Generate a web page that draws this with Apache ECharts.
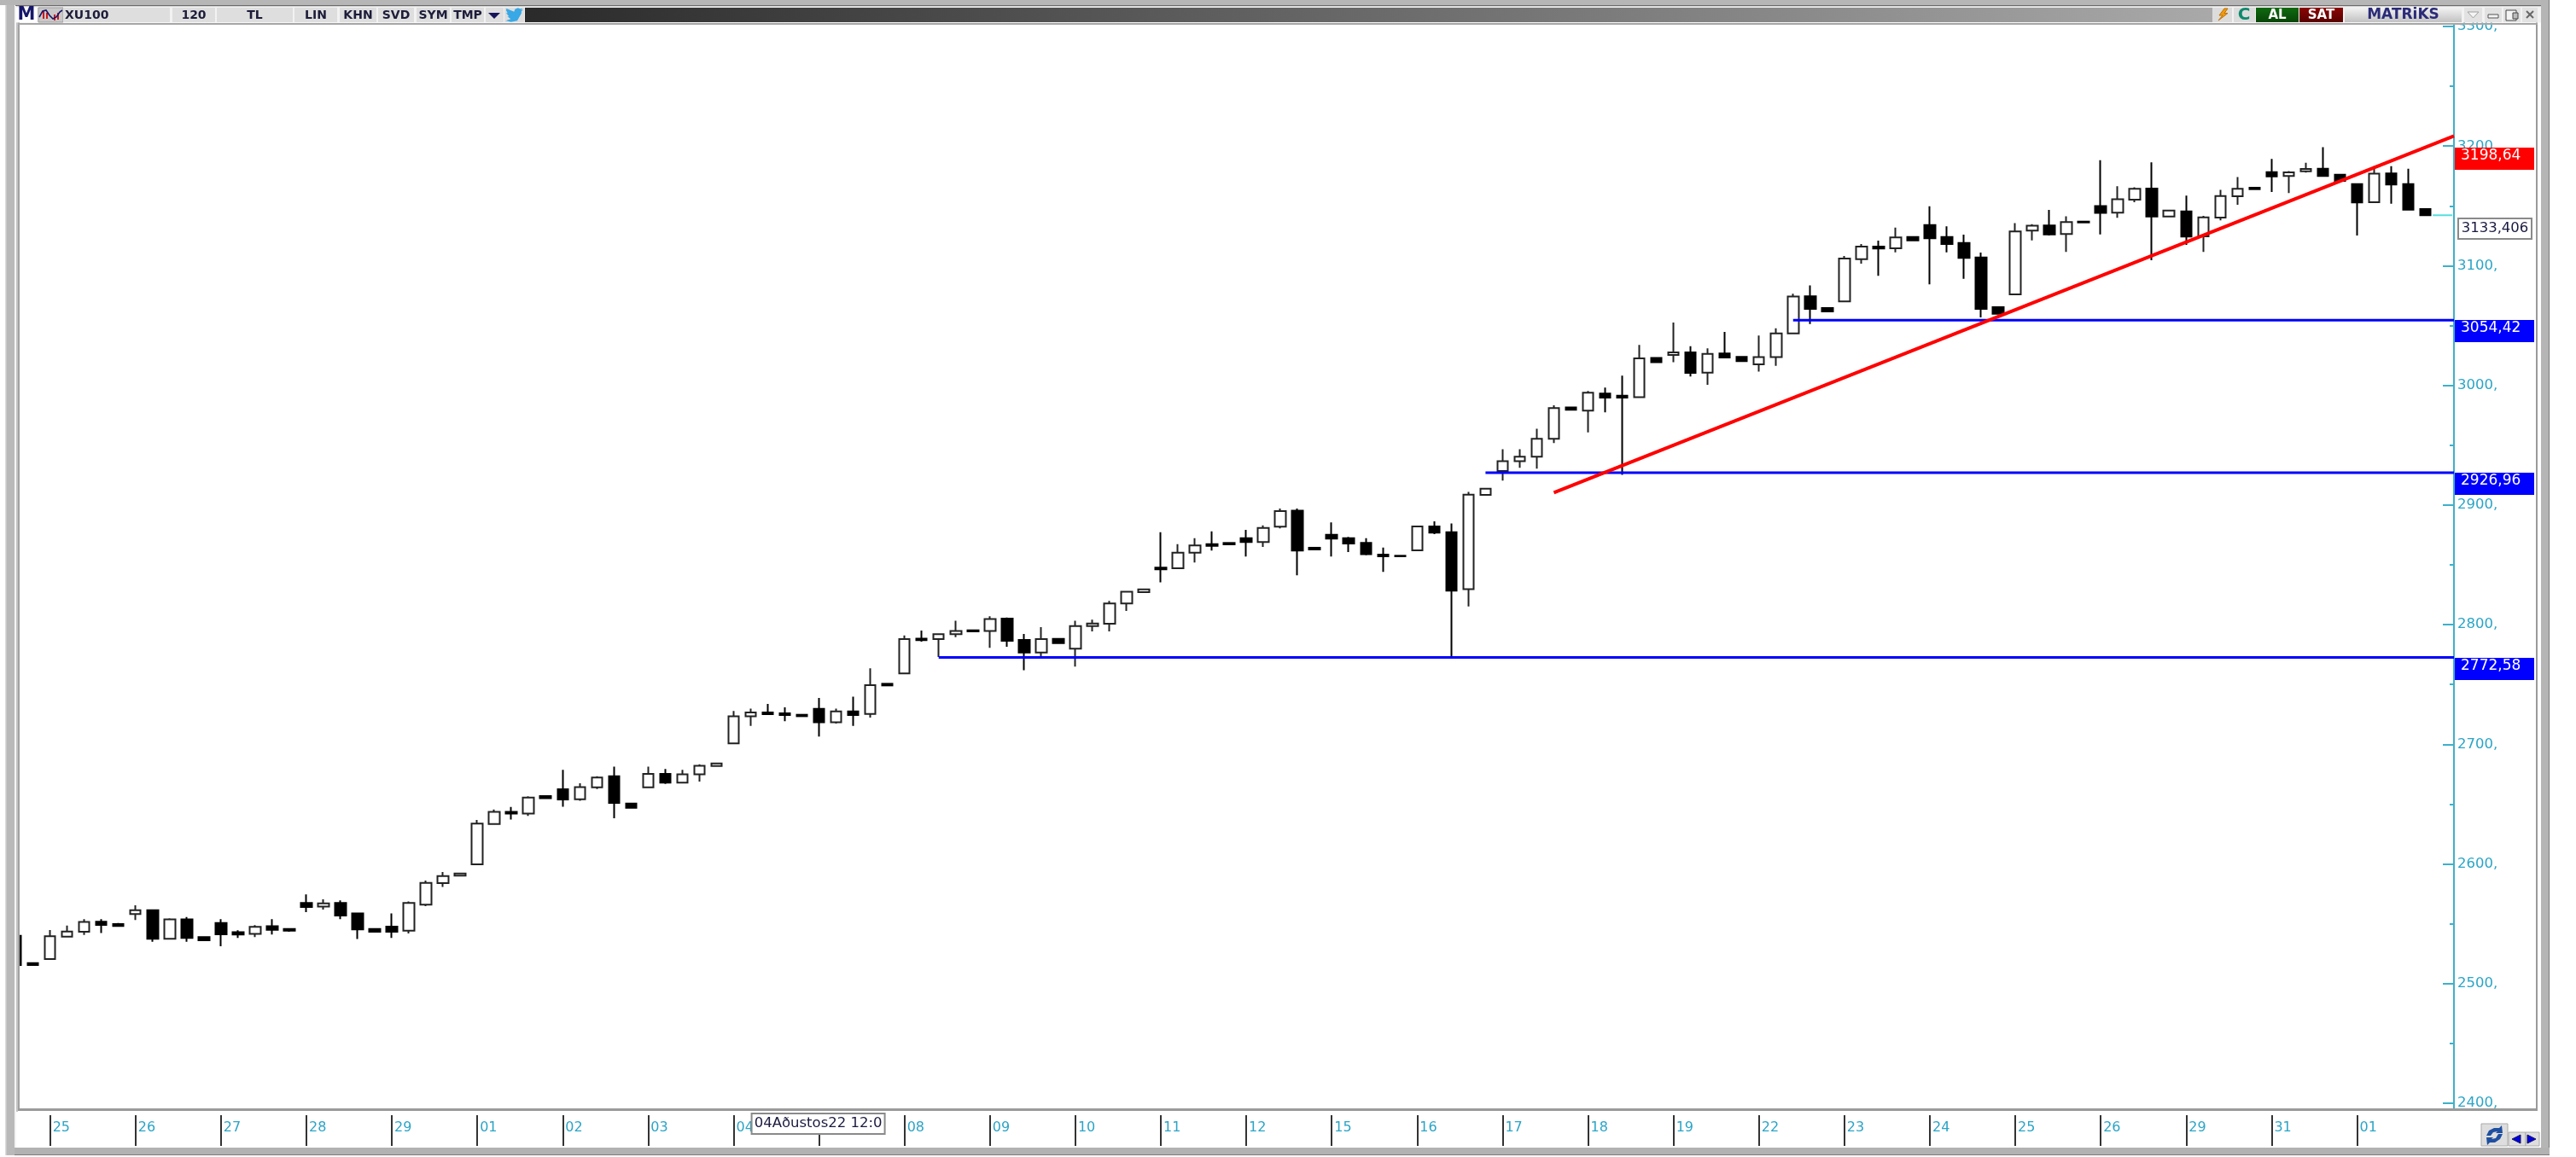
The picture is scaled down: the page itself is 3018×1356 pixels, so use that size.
<!DOCTYPE html>
<html>
<head>
<meta charset="utf-8">
<title>XU100</title>
<style>html,body{margin:0;padding:0;background:#fff;overflow:hidden}#c{width:3018px;height:1356px}</style>
<script src="https://cdn.jsdelivr.net/npm/echarts@6/dist/echarts.min.js"></script>
</head>
<body>
<div id="c"></div>
<script>
const symbol = 'XU100';
const opens = [2540.0,2517.2,2520.5,2539.3,2543.4,2551.7,2549.8,2558.1,2561.4,2537.4,2553.6,2538.8,2550.7,2542.9,2541.5,2547.9,2545.7,2567.4,2564.3,2567.4,2558.6,2545.7,2547.6,2544.3,2565.9,2584.0,2590.2,
2599.7,2633.4,2643.6,2642.2,2656.7,2662.4,2654.1,2664.1,2673.4,2650.5,2664.1,2675.3,2667.9,2675.0,2681.9,
2700.7,2723.5,2726.6,2725.9,2724.7,2729.7,2718.5,2727.6,2725.4,2750.6,2759.2,2788.4,2788.0,2792.0,2795.3,2794.8,2805.1,2787.2,2776.8,2788.2,2779.9,2798.9,2800.8,2817.7,2827.2,2847.6,2847.1,2860.2,2867.3,2868.3,2872.3,2869.0,
2881.9,2895.2,2864.3,2875.2,2872.3,2868.3,2858.6,2857.6,2862.1,2882.1,2877.3,2829.6,2908.5,
2928.5,2936.6,2940.4,2955.4,2981.5,2978.9,2993.2,2991.3,2990.1,3022.9,3025.5,3027.6,3010.7,3026.7,3023.8,3017.6,3023.6,3043.5,3074.4,3064.7,3070.2,
3105.5,3116.0,3114.6,3124.0,3134.0,3124.0,3119.1,
3107.0,3065.4,3076.1,3129.3,3133.6,3126.5,3136.9,3149.8,3144.3,3155.2,3164.5,3141.2,3145.5,3124.6,3140.3,3158.1,3165.2,3178.3,3175.0,3179.0,3181.1,3176.1,3168.3,3153.1,3177.1,3168.3,3147.4];
const closes = [2515.5,2515.5,2539.6,2543.6,2551.5,2549.1,2548.1,2561.4,2537.4,2553.6,2538.1,2536.2,2541.2,2541.0,2547.4,2545.0,2544.3,2564.0,2567.1,2556.9,2545.3,2543.4,2543.4,2567.4,2584.2,2589.9,2592.1,
2633.7,2643.6,2642.2,2655.5,2655.0,2653.9,2664.3,2672.2,2651.0,2647.0,2675.3,2667.9,2675.0,2682.1,2684.0,
2723.5,2726.6,2725.2,2724.5,2723.5,2718.5,2727.6,2724.5,2749.4,2749.2,2788.0,2787.0,2792.0,2794.8,2794.4,2804.8,2786.5,2776.8,2788.0,2784.6,2798.9,2801.0,2817.7,2827.6,2829.5,2846.2,2860.2,2866.2,2865.9,2867.1,2869.0,2880.9,
2894.9,2861.9,2862.9,2871.9,2867.8,2859.0,2857.2,2857.2,2882.1,2876.9,2828.4,2908.7,2913.7,
2936.6,2940.4,2955.4,2981.0,2979.6,2993.9,2989.8,2989.8,3022.6,3019.3,3027.6,3010.5,3026.4,3023.3,3020.3,3023.6,3043.5,3074.2,3064.0,3061.8,3106.0,
3116.0,3114.4,3123.6,3121.2,3122.9,3118.1,3106.5,
3064.0,3059.9,3128.6,3133.4,3126.2,3136.5,3136.2,3144.1,3155.5,3164.3,3141.2,3146.2,3124.3,3140.5,3158.3,3164.3,3164.0,3174.7,3178.0,3180.9,3175.0,3170.9,3152.9,3176.9,3167.8,3146.9,3142.2];
const lows = [2515.5,2515.5,2520.5,2539.3,2540.7,2542.2,2548.1,2553.1,2535.0,2537.4,2535.0,2536.2,2531.2,2538.1,2538.8,2541.0,2543.4,2559.8,2561.9,2553.8,2537.2,2543.4,2538.1,2541.9,2564.7,2580.7,2590.2,
2599.7,2633.4,2637.2,2640.1,2655.0,2647.9,2652.9,2662.7,2638.2,2647.0,2664.1,2666.9,2667.9,2668.8,2681.9,
2700.7,2715.4,2724.7,2719.3,2723.5,2706.4,2717.3,2715.4,2722.3,2749.2,2759.2,2785.8,2773.0,2789.6,2794.4,2780.6,2781.5,2762.0,2771.8,2784.6,2764.9,2794.4,2794.4,2811.5,2827.2,2835.3,2847.1,2851.9,2861.9,2867.1,2856.9,2865.0,
2880.4,2841.2,2862.9,2856.9,2860.7,2858.1,2844.1,2857.2,2862.1,2875.7,2772.5,2815.3,2908.5,
2920.4,2931.1,2930.4,2951.8,2979.6,2960.8,2977.5,2925.2,2990.1,3019.3,3019.3,3007.4,3000.5,3023.3,3020.3,3011.5,3016.4,3043.5,3051.2,3061.8,3070.2,
3101.7,3091.5,3111.2,3121.2,3084.4,3111.2,3089.1,
3056.8,3059.9,3076.1,3121.2,3125.3,3111.5,3136.2,3126.2,3140.0,3153.1,3104.6,3141.2,3117.4,3111.5,3137.9,3151.0,3164.0,3161.6,3160.7,3177.8,3175.0,3170.0,3125.3,3153.1,3151.9,3146.4,3142.2];
const highs = [2540.0,2517.2,2544.8,2548.6,2553.8,2553.8,2550.7,2565.5,2561.4,2554.5,2555.7,2538.8,2553.8,2544.6,2548.8,2553.8,2545.7,2574.5,2570.5,2569.5,2558.6,2545.7,2558.6,2568.6,2586.1,2593.3,2592.1,
2636.7,2645.5,2647.7,2656.5,2656.7,2678.6,2667.4,2673.4,2681.4,2650.5,2681.4,2679.3,2678.6,2683.3,2684.0,
2727.8,2729.9,2733.8,2730.9,2724.7,2738.7,2729.9,2739.9,2763.5,2750.6,2791.0,2795.1,2792.0,2803.2,2795.3,2807.0,2806.0,2792.2,2797.9,2788.2,2803.2,2804.1,2819.8,2827.6,2829.5,2877.3,2867.3,2872.3,2878.0,2868.3,2879.2,2883.0,
2897.1,2897.1,2864.3,2885.4,2873.3,2872.3,2864.5,2857.6,2882.1,2886.4,2884.5,2910.9,2913.7,
2946.6,2946.6,2963.7,2983.4,2981.5,2995.3,2998.1,3008.1,3033.8,3022.9,3052.6,3032.8,3030.9,3044.7,3023.8,3041.6,3047.8,3076.6,3083.5,3064.7,3108.2,
3118.1,3121.0,3131.9,3124.0,3149.7,3132.9,3126.0,
3111.0,3065.4,3135.7,3134.8,3146.7,3141.4,3136.9,3188.3,3166.4,3165.5,3186.4,3146.2,3158.6,3141.7,3163.5,3174.2,3165.2,3189.2,3179.2,3186.1,3199.0,3176.1,3168.3,3183.3,3183.3,3181.1,3147.4];

const dayLabels = ['25','26','27','28','29','01','02','03','04','05','08','09','10','11','12','15','16','17','18','19','22','23','24','25','26','29','31','01'];
const dayStartIndex = [2,7,12,17,22,27,32,37,42,47,52,57,62,67,72,77,82,87,92,97,102,107,112,117,122,127,132,137];

const supportValues = [2772.58,2926.96,3054.42];
const supportStartIndex = [54,86,104];
const trendIndex = [90,142.67];
const trendValue = [2910.4,3208.5];
const tagValues = [3198.64,3054.42,2926.96,2772.58];
const tagColors = ['#ff0000','#0000ff','#0000ff','#0000ff'];
const cursorPrice = 3133.406;
const cursorIndex = 47;
const cursorText = '04Aðustos22 12:0';
const lastIndexSpan = [141.43,142.58];

const xMin = 0.27, xMax = 142.67;
const teal = '#2ba5c6';
const font = 'DejaVu Sans';

const candleData = opens.map((o,i)=>[i,o,closes[i],lows[i],highs[i]]);
const fmt = v => String(v).replace('.',',');

/* window chrome */
const Z = 100;
const R = (x,y,w,h,fill,stroke)=>({type:'rect',z:Z,silent:true,shape:{x,y,width:w,height:h},style:{fill,stroke:stroke||null,lineWidth:stroke?1:0}});
const T = (x,y,text,f,fill,align)=>({type:'text',z:Z+2,silent:true,style:{x,y,text,font:f,fill,textAlign:align||'center',textVerticalAlign:'middle',align:align||'center',verticalAlign:'middle'}});
const P = (points,fill,stroke)=>({type:'polygon',z:Z+2,silent:true,shape:{points},style:{fill,stroke:stroke||null,lineWidth:stroke?1:0}});
const L = (points,stroke,w)=>({type:'polyline',z:Z+2,silent:true,shape:{points},style:{stroke,lineWidth:w||1,fill:null}});
const bold14 = 'bold 14px "DejaVu Sans"';
const grad = (c0,c1,x2,y2)=>({type:'linear',x:0,y:0,x2,y2,colorStops:[{offset:0,color:c0},{offset:1,color:c1}]});
const bird = [[24,4.6],[21,5.3],[23.3,2.6],[20.2,3.8],[17,2.4],[13,4],[11.8,7.5],[1.6,3.2],[1,5.6],[3.2,9.7],[0.9,9.1],[4.9,14],[2.7,14.1],[7.3,17.5],[1.2,19.6],[0,19.5],[7.6,21.7],[16,20],[21.5,10],[21.6,7]].map(p=>[592+p[0]*0.875,9+(p[1]-2)*0.85]);
const chrome = [
  R(0,0,2987,6,'#b6b6b6'), R(18,6,2960,1.5,'#6a6a6a'),
  R(6,6,11,1348,'#b9b9b9'), R(6,6,1.5,1348,'#dcdcdc'),
  R(17,7,2,1338,'#f4f4f4'),
  R(19,7,2,1296,'#c4c4c4'), R(21,26,2,1275,'#a2a2a2'),
  R(2971,26,2,1276,'#9a9a9a'),
  R(2977,0,10,1354,'#b5b5b5'), R(2986,0,1,1354,'#7a7a7a'),
  R(17,1345,2970,8,'#b2b2b2'), R(17,1353,2970,1,'#7a7a7a'),
  R(21,27,2952,2,'#a6a6a6'), R(21,1299,2952,3,'#9a9a9a'),
  R(19,7.5,2958,19,'#f2f2f2'),
  R(2874,1293,2,6,'#3fb0c9'), R(2874,29,2,2,'#3fb0c9'),
  /* left toolbar */
  R(19,9,24,17,'#ffffff'), T(31,18,'M','bold 21px "DejaVu Sans"','#16166a'),
  R(45,9,29,17,'#c9c9c9','#9a9a9a'),
  L([[46,20],[50,13],[54,12],[58,18],[62,22],[66,20],[70,14],[73,12]],'#16166a',1.6),
  R(50,13,2,9,'#d01818'),R(54,15,2,7,'#d01818'),R(63,17,2,7,'#d01818'),R(67,15,2,8,'#d01818'),
];
[[74,199,'XU100','l'],[202,252,'120'],[254,343,'TL'],[345,395,'LIN'],[398,441,'KHN'],[443,485,'SVD'],[488,527,'SYM'],[529,567,'TMP']].forEach(c=>{
  chrome.push(R(c[0],9,c[1]-c[0],17,'#dedede'));
  chrome.push(c[3]?T(c[0]+2,18,c[2],bold14,'#1c1c3a','left'):T((c[0]+c[1])/2,18,c[2],bold14,'#1c1c3a'));
});
chrome.push(
  R(569,9,21,17,'#dedede'), P([[572,15],[586,15],[579,22]],'#14145a'),
  R(591,9,23,17,'#dedede'),
  P(bird,'#38a8e6'),
  R(615,9,1977,17,grad('#2a2a2a','#a9a9a9',1,0)),
  /* right toolbar */
  R(2592,9,23,17,'#dcdcdc'),
  P([[2606,10],[2600,18],[2604,18],[2599,24],[2610,15.5],[2606,15.5],[2610,10]],'#f09a10','#c07000'),
  R(2617,9,25,17,'#dcdcdc'), T(2629,18,'C','bold 20px "DejaVu Sans"','#0e8a6c'),
  R(2643,9,50,17,grad('#0f6a0f','#074507',0,1)), T(2668,18,'AL','bold 15px "DejaVu Sans"','#ffffff'),
  R(2694,9,51,17,grad('#8a0505','#5a0000',0,1)), T(2719.5,18,'SAT','bold 15px "DejaVu Sans"','#ffffff'),
  R(2747,9,137,17,grad('#f2f2f2','#c2c2c2',0,1)), T(2815.5,18,'MATRiKS','bold 17px "DejaVu Sans"','#2b2b78'),
  R(2887,9,21,17,'#e2e2e2'), P([[2891,14],[2904,14],[2897.5,21]],'#f4f4f4','#a0a0a0'),
  R(2911,9,20,17,'#e2e2e2'), R(2915,17,12,4,'#f4f4f4','#555'),
  R(2933,9,20,17,'#e2e2e2'), R(2936,12,12,12,'#f4f4f4','#444'), R(2944,15,6,7,'#bbb','#444'),
  R(2955,9,18,17,'#e2e2e2'), L([[2960,13],[2968,21]],'#666',2), L([[2968,13],[2960,21]],'#666',2),
  /* bottom-right buttons */
  R(2907,1317,31,26,'#dedede','#aaaaaa'),
  P([[2913,1331],[2916,1325],[2922,1322],[2928,1322],[2931,1319],[2932,1328],[2924,1328],[2926,1326],[2921,1327],[2918,1331]],'#1e4fa0'),
  P([[2932,1329],[2929,1335],[2923,1339],[2917,1339],[2914,1342],[2913,1333],[2921,1333],[2919,1335],[2924,1334],[2927,1329]],'#1e4fa0'),
  R(2939,1327,20,16,'#dedede','#aaaaaa'), P([[2943,1335],[2953,1330],[2953,1340]],'#0000e0','#14145a'),
  R(2959,1327,16,16,'#dedede','#aaaaaa'), P([[2971,1335],[2961,1330],[2961,1340]],'#0000e0','#14145a')
);

const levelSeries = supportValues.map((v,i)=>({
  name:'level'+i,type:'line',z:5,silent:true,showSymbol:false,animation:false,
  data:[[supportStartIndex[i],v],[xMax,v]],
  lineStyle:{color:'#0000ff',width:3}
}));

const chart = echarts.init(document.getElementById('c'),null,{renderer:'canvas'});
chart.setOption({
  animation:false,
  backgroundColor:'#ffffff',
  textStyle:{fontFamily:font},
  grid:{left:24,right:143,top:31,bottom:63,containLabel:false},
  xAxis:{
    type:'value',min:xMin,max:xMax,offset:14,
    splitLine:{show:false},
    axisLine:{show:false},
    axisTick:{show:true,length:36,customValues:dayStartIndex,lineStyle:{color:'#333333',width:2}},
    axisLabel:{show:true,customValues:dayStartIndex,margin:15,align:'left',verticalAlign:'middle',padding:[0,0,0,3],
      color:teal,fontSize:16,fontFamily:font,
      formatter:v=>dayLabels[dayStartIndex.indexOf(v)]}
  },
  yAxis:{
    type:'value',position:'right',min:2400,max:3300,interval:100,
    splitLine:{show:false},
    axisLine:{show:true,lineStyle:{color:'#3fb0c9',width:2}},
    axisTick:{show:true,inside:true,length:13,lineStyle:{color:'#3fb0c9',width:2}},
    minorTick:{show:true,splitNumber:2,length:5,lineStyle:{color:'#3fb0c9',width:2}},
    axisLabel:{show:true,margin:4,color:teal,fontSize:16.5,fontFamily:font,padding:[3,0,0,0],formatter:v=>v+','}
  },
  series:[
    {
      name:symbol,type:'candlestick',z:3,barWidth:13,silent:true,clip:true,
      data:candleData,
      itemStyle:{color:'#ffffff',color0:'#000000',borderColor:'#222222',borderColor0:'#000000',borderWidth:2}
    },
    ...levelSeries,
    {
      name:'trend',type:'line',z:6,silent:true,showSymbol:false,animation:false,
      data:trendIndex.map((x,i)=>[x,trendValue[i]]),
      lineStyle:{color:'#ff0000',width:4}
    },
    {
      name:'lastClose',type:'line',z:6,silent:true,showSymbol:false,animation:false,
      data:lastIndexSpan.map(x=>[x,closes[closes.length-1]]),
      lineStyle:{color:'#55dede',width:2}
    },
    {
      name:'levelTags',type:'custom',z:20,silent:true,clip:false,
      data:tagValues.map((v,i)=>[v,i]),
      encode:{y:0},
      renderItem:(params,api)=>{
        const v=api.value(0), i=api.value(1);
        const p=api.coord([xMax,v]);
        return {type:'group',children:[
          {type:'rect',shape:{x:p[0]+1,y:Math.round(p[1]),width:93,height:26},style:{fill:tagColors[i]}},
          {type:'text',style:{x:p[0]+8,y:Math.round(p[1])+10,text:fmt(v),fill:'#ffffff',font:'17px "DejaVu Sans"',textAlign:'left',textVerticalAlign:'middle',align:'left',verticalAlign:'middle'}}
        ]};
      }
    },
    {
      name:'cursorPrice',type:'custom',z:20,silent:true,clip:false,
      data:[[cursorPrice]],
      encode:{y:0},
      renderItem:(params,api)=>{
        const v=api.value(0);
        const p=api.coord([xMax,v]);
        return {type:'group',children:[
          {type:'rect',shape:{x:p[0]+5,y:p[1]-8.5,width:86,height:24},style:{fill:'#ffffff',stroke:'#8a8a8a',lineWidth:2}},
          {type:'text',style:{x:p[0]+48,y:p[1]+3.5,text:fmt(v),fill:'#1a1a40',font:'16.5px "DejaVu Sans"',textAlign:'center',textVerticalAlign:'middle',align:'center',verticalAlign:'middle'}}
        ]};
      }
    },
    {
      name:'cursorDate',type:'custom',z:20,silent:true,clip:false,
      data:[[cursorIndex,2400]],
      encode:{x:0,y:1},
      renderItem:(params,api)=>{
        const p=api.coord([api.value(0),api.value(1)]);
        return {type:'group',children:[
          {type:'rect',shape:{x:p[0]-79,y:p[1]+12,width:156,height:24},style:{fill:'#ffffff',stroke:'#8a8a8a',lineWidth:2}},
          {type:'text',style:{x:p[0]-1,y:p[1]+24,text:cursorText,fill:'#1a1a40',font:'16.5px "DejaVu Sans"',textAlign:'center',textVerticalAlign:'middle',align:'center',verticalAlign:'middle'}}
        ]};
      }
    }
  ],
  graphic:{elements:chrome}
});
</script>
</body>
</html>
